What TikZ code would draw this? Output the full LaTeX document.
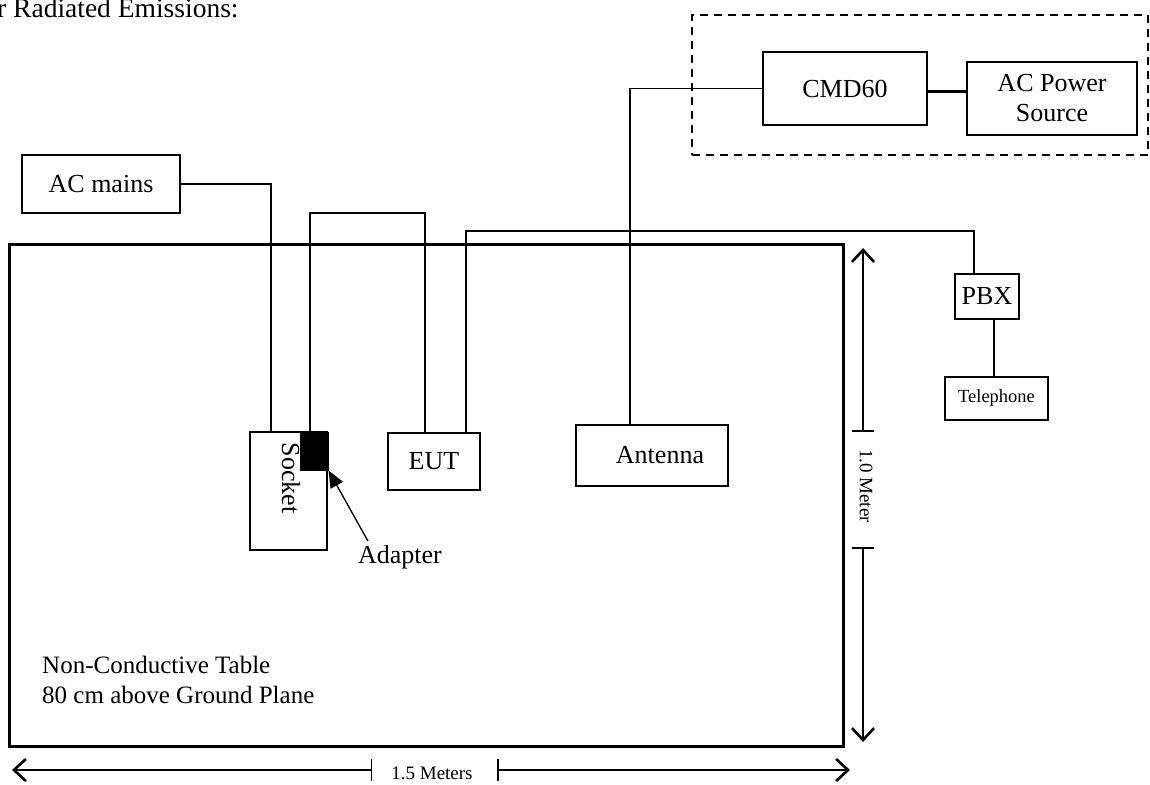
\documentclass[tikz,border=0pt]{standalone}
\usepackage{fontspec}
\setmainfont{Liberation Serif}
\usetikzlibrary{arrows.meta}
\begin{document}
\begin{tikzpicture}[x=1pt,y=-1pt,
  box/.style={draw,line width=1.4pt,inner sep=0pt,font=\fontsize{26}{30}\selectfont},
  wire/.style={line width=1.3pt},
  txt/.style={font=\fontsize{26}{30}\selectfont,inner sep=0pt},
  small/.style={font=\fontsize{19}{22}\selectfont,inner sep=0pt},
  dim/.style={line width=1.5pt},
  barbtip/.style={-{Straight Barb[length=12pt,width=22pt,line width=2.6pt]}},
  bartip/.style={-{Bar[width=22pt,line width=1.5pt]}}
]
\useasboundingbox (0,0) rectangle (1150,784);

% title
\node[font=\fontsize{27.5}{32}\selectfont,inner sep=0pt,anchor=base west] (title) at (-3,18) {r Radiated Emissions:};

% dashed group
\node[draw,line width=1.2pt,dash pattern=on 8pt off 6pt,minimum width=456pt,minimum height=140pt,inner sep=0pt] (group) at (920,85) {};

% table
\node[draw,line width=3pt,minimum width=834pt,minimum height=502pt,inner sep=0pt] (table) at (426,495) {};

% boxes
\node[box,minimum width=158pt,minimum height=58pt] (acmains) at (101,184) {AC mains};
\node[box,minimum width=164pt,minimum height=73pt] (cmd60) at (845,88.5) {CMD60};
\node[box,minimum width=170pt,minimum height=73pt,align=center] (acpower) at (1052,98.5) {AC Power\\Source};
\node[box,minimum width=77pt,minimum height=118pt] (socket) at (288.5,491) {};
\node[txt,rotate=-90] (socketlbl) at (291,478) {Socket};
\node[draw,fill=black,line width=1pt,minimum width=28pt,minimum height=38pt,inner sep=0pt] (adapter) at (314,451) {};
\node[box,minimum width=92pt,minimum height=57pt] (eut) at (434,461.5) {EUT};
\node[box,minimum width=152pt,minimum height=61pt] (antenna) at (652,455.5) {\hspace*{16pt}Antenna};
\node[box,minimum width=64pt,minimum height=45pt] (pbx) at (987,296.5) {PBX};
\node[box,minimum width=103pt,minimum height=43pt,font=\fontsize{18.5}{22}\selectfont] (telephone) at (996.5,398.5) {Telephone};

% wires
\draw[wire] (acmains.east) -| (271,0 |- socket.north);
\draw[wire] (310,0 |- adapter.north) |- (425,213) -- (425,0 |- eut.north);
\draw[wire] (466,0 |- eut.north) |- (974,231) -- (974,0 |- pbx.north);
\draw[wire] (630,0 |- antenna.north) |- (cmd60.west);
\draw[line width=3pt] (cmd60.east |- 0,91) -- (acpower.west |- 0,91);
\draw[wire] (994,0 |- pbx.south) -- (994,0 |- telephone.north);

% adapter label
\node[txt] (adapterlbl) at (400,557) {Adapter};
\draw[wire,-{Triangle[length=17pt,width=14pt]}] (adapterlbl.north west) ++(10,-4) coordinate (adstart) (adstart) -- (adapter.south east);

% table text
\node[font=\fontsize{25}{30}\selectfont,inner sep=0pt,anchor=north west,align=left] (tabletxt) at (42,656) {Non-Conductive Table\\80 cm above Ground Plane};

% vertical dimension
\coordinate (vtop) at (863,248);
\coordinate (vbot) at (863,742);
\node[small,rotate=-90] (vlbl) at (866,486) {1.0 Meter};
\draw[dim,barbtip] (863,430) -- (vtop);
\draw[dim,bartip] (vtop |- 0,432) -- (vtop |- 0,430);
\draw[dim,bartip] (vbot |- 0,549) -- (vbot |- 0,547);
\draw[dim,barbtip] (863,547) -- (vbot);

% horizontal dimension
\coordinate (hleft) at (12,770);
\coordinate (hright) at (850,770);
\node[small] (hlbl) at (432,773) {1.5 Meters};
\draw[dim,barbtip] (372,770) -- (hleft);
\draw[dim,bartip] (370,770) -- (372,770);
\draw[dim,barbtip] (497,770) -- (hright);
\draw[dim,bartip] (499,770) -- (497,770);
\end{tikzpicture}
\end{document}
